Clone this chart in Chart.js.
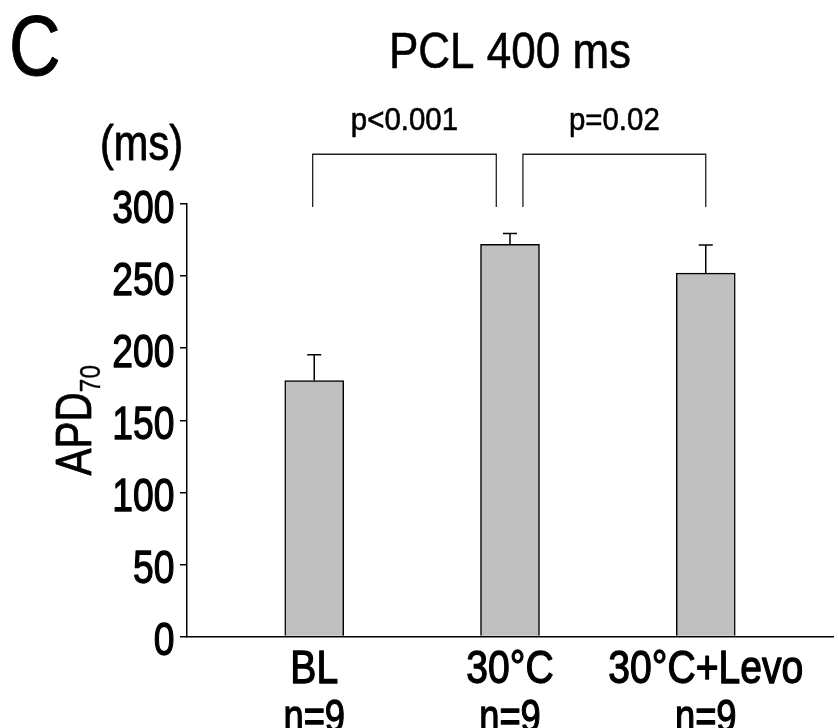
<!DOCTYPE html>
<html><head><meta charset="utf-8">
<script src="https://cdn.jsdelivr.net/npm/chart.js@4.4.1/dist/chart.umd.min.js"></script>
<style>html,body{margin:0;padding:0;background:#fff;} #wrap{width:838px;height:728px;}</style>
</head><body><div id="wrap"><canvas id="c" width="838" height="728"></canvas></div>
<script>
const categories = ['BL', '30°C', '30°C+Levo'];
const sampleSizes = ['n=9', 'n=9', 'n=9'];
const apdMeans = [177.5, 272, 252];
const apdErrTop = [195.5, 279.5, 271.5];
const yTicks = [0, 50, 100, 150, 200, 250, 300];
const comparisons = [
  { label: 'p<0.001', from: -0.008, to: 0.93 },
  { label: 'p=0.02', from: 1.066, to: 2.0 }
];
const bracketBottom = 298;
const bracketTop = 334.5;

const FONT = "'Liberation Sans', Arial, sans-serif";

function txt(ctx, s, x, y, size, sx, align, bold) {
  ctx.save();
  ctx.font = size + 'px ' + FONT;
  ctx.textAlign = align;
  ctx.textBaseline = 'alphabetic';
  ctx.fillStyle = '#000';
  ctx.strokeStyle = '#000';
  ctx.translate(x, y);
  ctx.scale(sx, 1);
  ctx.fillText(s, 0, 0);
  if (bold) {
    ctx.lineWidth = bold;
    ctx.lineJoin = 'round';
    ctx.strokeText(s, 0, 0);
  }
  ctx.restore();
}

const overlay = {
  id: 'overlay',
  afterDatasetsDraw(chart) {
    const ctx = chart.ctx, xs = chart.scales.x, ys = chart.scales.y, ca = chart.chartArea;
    ctx.save();
    // error bars
    ctx.strokeStyle = '#000'; ctx.lineWidth = 1.5;
    categories.forEach((c, i) => {
      const x = xs.getPixelForValue(i);
      const y0 = ys.getPixelForValue(apdMeans[i]);
      const y1 = ys.getPixelForValue(apdErrTop[i]);
      ctx.beginPath();
      ctx.moveTo(x, y0); ctx.lineTo(x, y1);
      ctx.moveTo(x - 7, y1); ctx.lineTo(x + 7, y1);
      ctx.stroke();
    });
    // brackets
    ctx.strokeStyle = '#222'; ctx.lineWidth = 1.3;
    comparisons.forEach(cmp => {
      const xa = xs.getPixelForValue(cmp.from), xb = xs.getPixelForValue(cmp.to);
      const yb = ys.getPixelForValue(bracketBottom), yt = ys.getPixelForValue(bracketTop);
      ctx.beginPath();
      ctx.moveTo(xa, yb); ctx.lineTo(xa, yt); ctx.lineTo(xb, yt); ctx.lineTo(xb, yb);
      ctx.stroke();
      txt(ctx, cmp.label, (xa + xb) / 2, yt - 24.5, 32, 0.92, 'center', 0.6);
    });
    ctx.restore();

    // y tick labels
    ys.ticks.forEach(t => {
      txt(ctx, String(t.value), ca.left - 12.5, ys.getPixelForValue(t.value) + 18.5, 46, 0.81, 'right', 1.3);
    });
    // x tick labels (two lines)
    xs.ticks.forEach(t => {
      const x = xs.getPixelForValue(t.value);
      txt(ctx, categories[t.value], x, ca.bottom + 46.5, 46, 0.85, 'center', 1.3);
      txt(ctx, sampleSizes[t.value], x, ca.bottom + 95.5, 46, 0.79, 'center', 1.3);
    });
    // title
    txt(ctx, 'PCL 400 ms', xs.getPixelForValue(1), 68.3, 50, 0.88, 'center', 0.6);
    // panel letter
    txt(ctx, 'C', 9, 75, 86, 0.83, 'left', 1);
    // unit
    txt(ctx, '(ms)', 141.5, 159.5, 50, 0.83, 'center', 0.9);
    // y title with subscript
    ctx.save();
    ctx.font = '50px ' + FONT;
    const w1 = ctx.measureText('APD').width * 0.81;
    ctx.font = '30px ' + FONT;
    const w2 = ctx.measureText('70').width * 0.81;
    const cy = (ca.top + ca.bottom) / 2;
    ctx.translate(91, cy + (w1 + w2) / 2);
    ctx.rotate(-Math.PI / 2);
    txt(ctx, 'APD', 0, 0, 50, 0.81, 'left', 0.8);
    txt(ctx, '70', w1, 9, 30, 0.81, 'left', 0.4);
    ctx.restore();
  }
};

new Chart(document.getElementById('c').getContext('2d'), {
  type: 'bar',
  data: {
    datasets: [{
      data: categories.map((c, i) => ({ x: i, y: apdMeans[i] })),
      backgroundColor: '#c0c0c0',
      borderColor: '#000',
      borderWidth: 1.5,
      barThickness: 59
    }]
  },
  options: {
    animation: false,
    responsive: false,
    devicePixelRatio: 1,
    layout: { padding: { top: 204, right: 5, left: 0, bottom: 0 } },
    plugins: { legend: { display: false }, tooltip: { enabled: false }, title: { display: false } },
    scales: {
      x: {
        type: 'linear', min: -0.65, max: 2.65, offset: false,
        afterBuildTicks: s => { s.ticks = categories.map((c, i) => ({ value: i })); },
        ticks: { display: false },
        grid: { display: false, drawTicks: false },
        border: { display: true, color: '#000', width: 1.5 },
        afterFit: s => { s.height = 91.5; }
      },
      y: {
        min: 0, max: 300,
        afterBuildTicks: s => { s.ticks = yTicks.map(v => ({ value: v })); },
        ticks: { display: false },
        grid: { drawOnChartArea: false, drawTicks: true, tickLength: 7, color: '#000', lineWidth: 1.5 },
        border: { display: true, color: '#000', width: 1.5 },
        afterFit: s => { s.width = 187; }
      }
    }
  },
  plugins: [overlay]
});
</script>
</body></html>
